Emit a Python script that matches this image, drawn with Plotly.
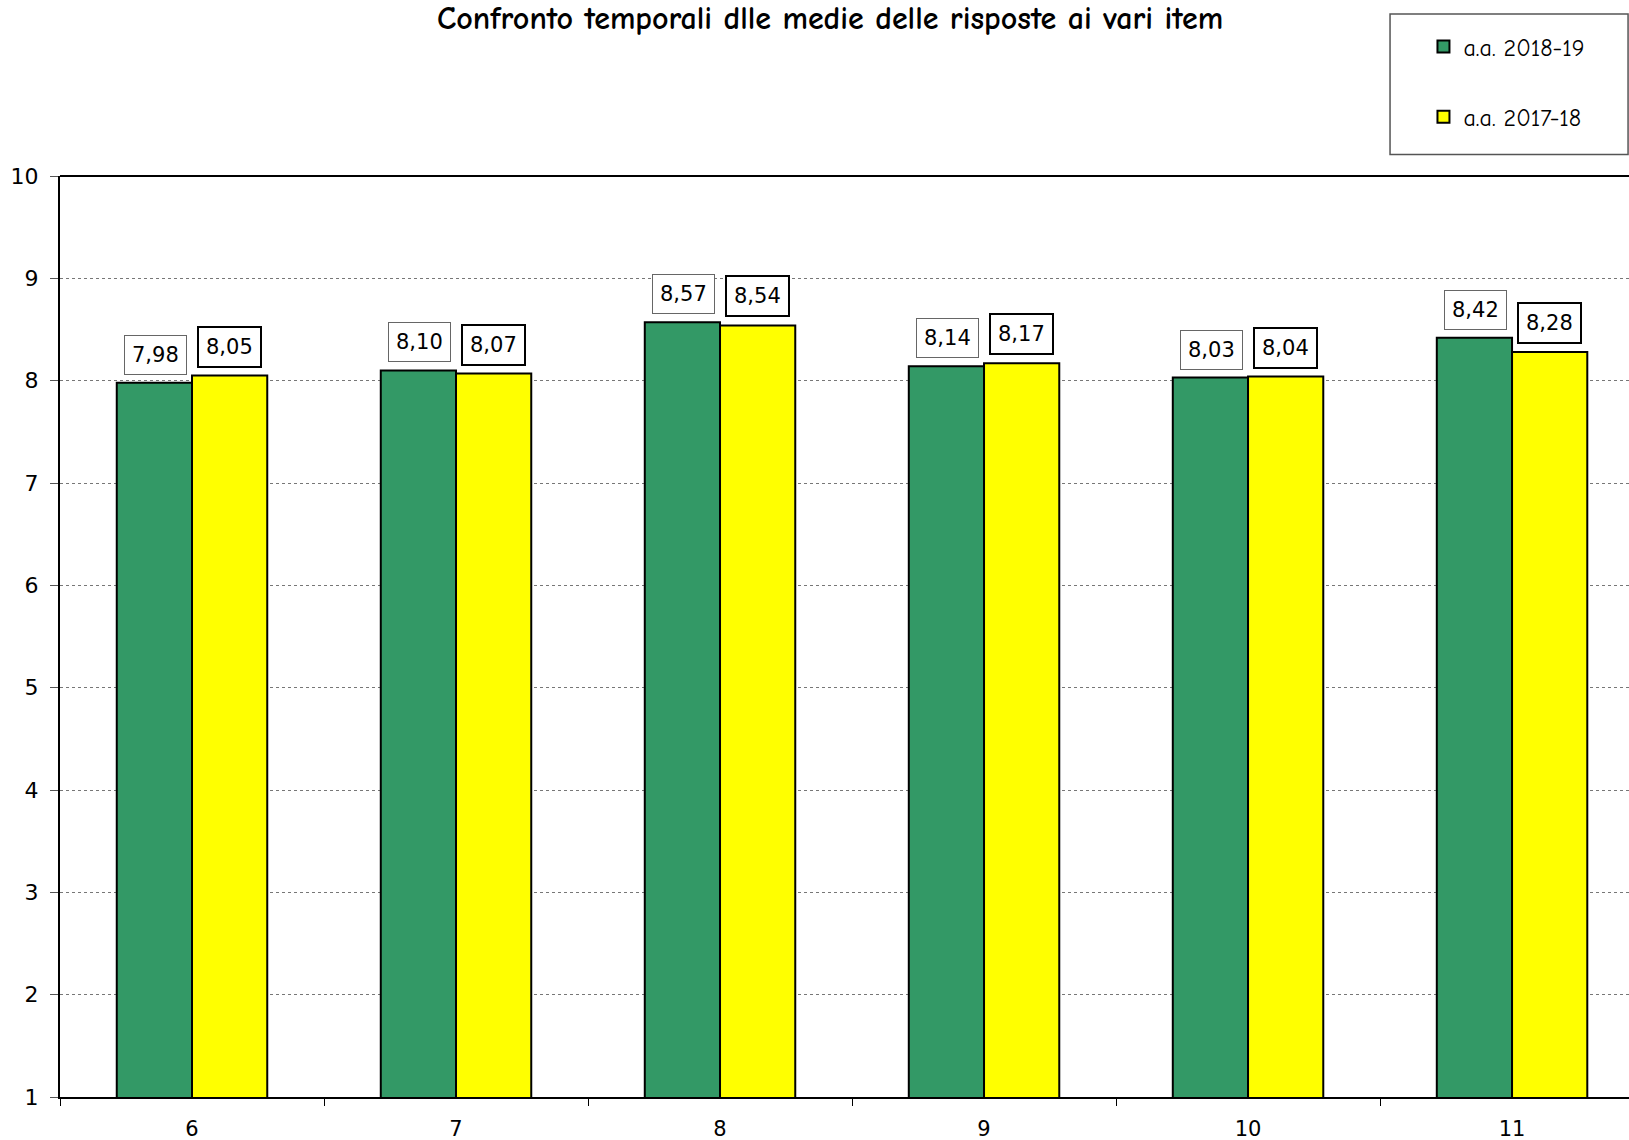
import plotly.graph_objects as go

categories = ["6", "7", "8", "9", "10", "11"]
vals_1819 = [7.98, 8.10, 8.57, 8.14, 8.03, 8.42]
vals_1718 = [8.05, 8.07, 8.54, 8.17, 8.04, 8.28]
series_names = ["a.a. 2018-19", "a.a. 2017-18"]
y_ticks = [1, 2, 3, 4, 5, 6, 7, 8, 9, 10]

FONT = "Comic Sans MS, Comic Neue, Lato, DejaVu Sans, sans-serif"
TFONT = "Verdana, DejaVu Sans, sans-serif"
GREEN = "#339966"
YELLOW = "#FFFF00"

fig = go.Figure()
fig.add_trace(go.Bar(x=categories, y=vals_1819, name=series_names[0],
                     marker=dict(color=GREEN, line=dict(color="black", width=2)),
                     legendgroup="a"))
fig.add_trace(go.Bar(x=categories, y=vals_1718, name=series_names[1],
                     marker=dict(color=YELLOW, line=dict(color="black", width=2)),
                     legendgroup="b"))

def fmt(v):
    return f"{v:.2f}".replace(".", ",")

annotations = []
for i, v in enumerate(vals_1819):
    annotations.append(dict(x=i, y=v, xref="x", yref="y", text=fmt(v), showarrow=False,
                            xshift=-37, yshift=8, yanchor="bottom",
                            bordercolor="#666666", borderwidth=1, borderpad=7,
                            bgcolor="white", font=dict(family=TFONT, size=21, color="black")))
for i, v in enumerate(vals_1718):
    annotations.append(dict(x=i, y=v, xref="x", yref="y", text=fmt(v), showarrow=False,
                            xshift=37, yshift=8, yanchor="bottom",
                            bordercolor="black", borderwidth=2, borderpad=7,
                            bgcolor="white", font=dict(family=TFONT, size=21, color="black")))

annotations.append(dict(x=0.4906, y=1.171, xref="paper", yref="paper",
                        text="<b>Confronto temporali dlle medie delle risposte ai vari item</b>",
                        showarrow=False, yanchor="middle",
                        font=dict(family=FONT, size=32, color="black")))

fig.update_layout(
    width=1629, height=1140,
    margin=dict(l=60, r=0, t=176, b=43, autoexpand=False),
    paper_bgcolor="white", plot_bgcolor="white",
    barmode="group", bargap=0.43, bargroupgap=0,
    annotations=annotations,
    font=dict(family=TFONT, size=20, color="black"),
    legend=dict(x=0.869, y=1.1646, xanchor="left", yanchor="top",
                bgcolor="rgba(0,0,0,0)", borderwidth=0,
                tracegroupgap=36, font=dict(family=FONT, size=24),
                itemwidth=30),
    shapes=[
        dict(type="rect", xref="paper", yref="paper", x0=0.8477, x1=0.9994,
             y0=1.0234, y1=1.1759, line=dict(color="#555555", width=1.5),
             fillcolor="white", layer="below"),
        dict(type="line", xref="paper", yref="paper", x0=0, x1=1, y0=1, y1=1,
             line=dict(color="black", width=2)),
    ],
)

fig.update_xaxes(range=[-0.5, 5.443], showline=True, linecolor="black", linewidth=2,
                 tickson="boundaries", ticks="outside", ticklen=7, tickcolor="black",
                 tickfont=dict(family=TFONT, size=21), showgrid=False,
                 ticklabelstandoff=12)
fig.update_yaxes(range=[1, 10], tickvals=y_ticks, showline=True, linecolor="black",
                 linewidth=2, ticks="outside", ticklen=8, tickcolor="#555555",
                 showgrid=True, gridcolor="#777777", griddash="dot", gridwidth=1,
                 tickfont=dict(family=TFONT, size=22), zeroline=False,
                 ticklabelstandoff=7)

fig.write_html("out.html", config={"displayModeBar": False},
               post_script="document.body.style.margin='0px';document.body.style.overflow='hidden';")
